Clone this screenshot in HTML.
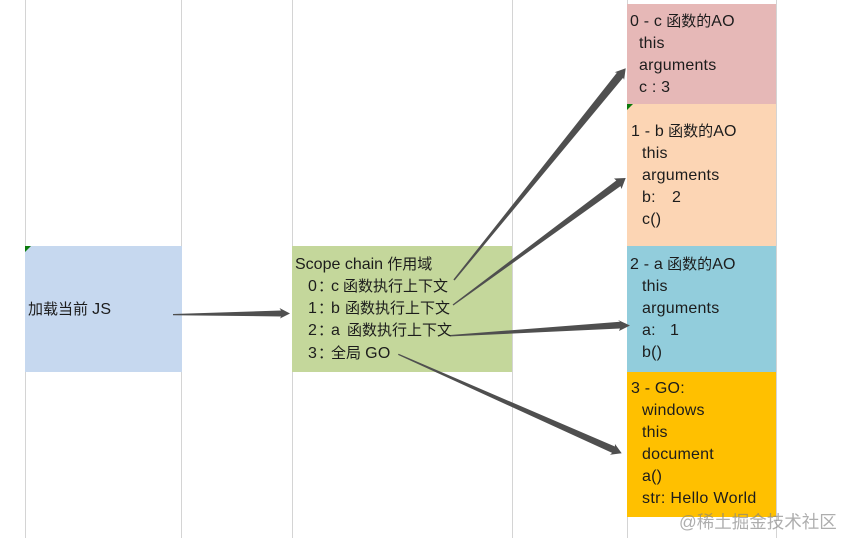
<!DOCTYPE html>
<html><head><meta charset="utf-8">
<style>
html,body{margin:0;padding:0;background:#fff}
#c{position:relative;width:842px;height:538px;overflow:hidden;background:#fff;font-family:"Liberation Sans","Noto Sans CJK SC",sans-serif;font-size:15px;color:#1c1c1c}
.v{position:absolute;top:0;width:1px;height:538px;background:#d4d4d4}
.b{position:absolute}
.t{position:absolute;height:22px;line-height:22px;white-space:pre;margin-top:-10px}
.l{font-size:16px;letter-spacing:.2px}
svg{position:absolute;left:0;top:0}
.w{position:absolute;left:679px;top:511px;font-size:17.5px;line-height:22px;color:rgba(130,130,130,.65);white-space:pre}
</style></head><body><div id="c">
<div class="v" style="left:25px"></div><div class="v" style="left:181px"></div><div class="v" style="left:292px"></div><div class="v" style="left:512px"></div><div class="v" style="left:627px"></div><div class="v" style="left:776px"></div>
<div class="b" style="left:25px;top:246px;width:157px;height:126px;background:#c6d8ef"></div>
<div class="b" style="left:292px;top:246px;width:220px;height:126px;background:#c4d79b"></div>
<div class="b" style="left:627px;top:4px;width:149px;height:100px;background:#e6b8b7"></div>
<div class="b" style="left:627px;top:104px;width:149px;height:142px;background:#fcd5b4"></div>
<div class="b" style="left:627px;top:246px;width:149px;height:126px;background:#92cddc"></div>
<div class="b" style="left:627px;top:372px;width:149px;height:145px;background:#ffc000"></div>

<div class="t" style="left:28px;top:309px">加载当前 <span class="l">JS</span></div>

<div class="t" style="left:295px;top:264px"><span class="l" style="letter-spacing:0">Scope chain</span> 作用域</div>
<div class="t" style="left:308px;top:286px"><span class="l">0</span></div><div class="t" style="left:318px;top:286px">：</div><div class="t" style="left:331px;top:286px"><span class="l">c</span></div><div class="t" style="left:343px;top:286px">函数执行上下文</div>
<div class="t" style="left:308px;top:308px"><span class="l">1</span></div><div class="t" style="left:318px;top:308px">：</div><div class="t" style="left:331px;top:308px"><span class="l">b</span></div><div class="t" style="left:345px;top:308px">函数执行上下文</div>
<div class="t" style="left:308px;top:330px"><span class="l">2</span></div><div class="t" style="left:318px;top:330px">：</div><div class="t" style="left:331px;top:330px"><span class="l">a</span></div><div class="t" style="left:347px;top:330px">函数执行上下文</div>
<div class="t" style="left:308px;top:353px"><span class="l">3</span></div><div class="t" style="left:318px;top:353px">：</div><div class="t" style="left:331px;top:353px">全局 <span class="l">GO</span></div>

<div class="t" style="left:630px;top:21px"><span class="l">0 - c</span> 函数的<span class="l">AO</span></div>
<div class="t l" style="left:639px;top:43px">this</div>
<div class="t l" style="left:639px;top:65px">arguments</div>
<div class="t l" style="left:639px;top:87px">c : 3</div>

<div class="t" style="left:631px;top:131px"><span class="l">1 - b</span> 函数的<span class="l">AO</span></div>
<div class="t l" style="left:642px;top:153px">this</div>
<div class="t l" style="left:642px;top:175px">arguments</div>
<div class="t l" style="left:642px;top:197px">b:</div><div class="t l" style="left:672px;top:197px">2</div>
<div class="t l" style="left:642px;top:219px">c()</div>

<div class="t" style="left:630px;top:264px"><span class="l">2 - a</span> 函数的<span class="l">AO</span></div>
<div class="t l" style="left:642px;top:286px">this</div>
<div class="t l" style="left:642px;top:308px">arguments</div>
<div class="t l" style="left:642px;top:330px">a:</div><div class="t l" style="left:670px;top:330px">1</div>
<div class="t l" style="left:642px;top:352px">b()</div>

<div class="t l" style="left:631px;top:388px">3 - GO:</div>
<div class="t l" style="left:642px;top:410px">windows</div>
<div class="t l" style="left:642px;top:432px">this</div>
<div class="t l" style="left:642px;top:454px">document</div>
<div class="t l" style="left:642px;top:476px">a()</div>
<div class="t l" style="left:642px;top:498px;letter-spacing:.35px">str: Hello World</div>

<svg width="842" height="538" viewBox="0 0 842 538">
<g fill="#4f4f4f">
<polygon points="173,314 281,310.5 279.5,308 290,313.5 280,318.5 281,316.5 173,315.2"/>
<polygon points="453.4,279.5 616.9,72.8 614.7,72.3 625.7,68.3 624.1,79.9 623.1,77.8 454.6,280.5"/>
<polygon points="452.6,304.5 616.3,180.5 614,178.5 625.7,178 621.5,189 620.5,186.1 453.4,305.5"/>
<polygon points="450,335 620,321.8 618,320 630,325.5 619,331 620,328.5 451,336.4"/>
<polygon points="398.6,353.7 614.9,446.5 615,444 621.7,453.3 610,454.8 612.1,452.9 398,354.9"/>
</g>
<polygon points="25,246 31,246 25,252" fill="#0b7a0b"/>
<polygon points="627,104 633,104 627,110" fill="#0b7a0b"/>
</svg>
<div class="w">@稀土掘金技术社区</div>
</div></body></html>
